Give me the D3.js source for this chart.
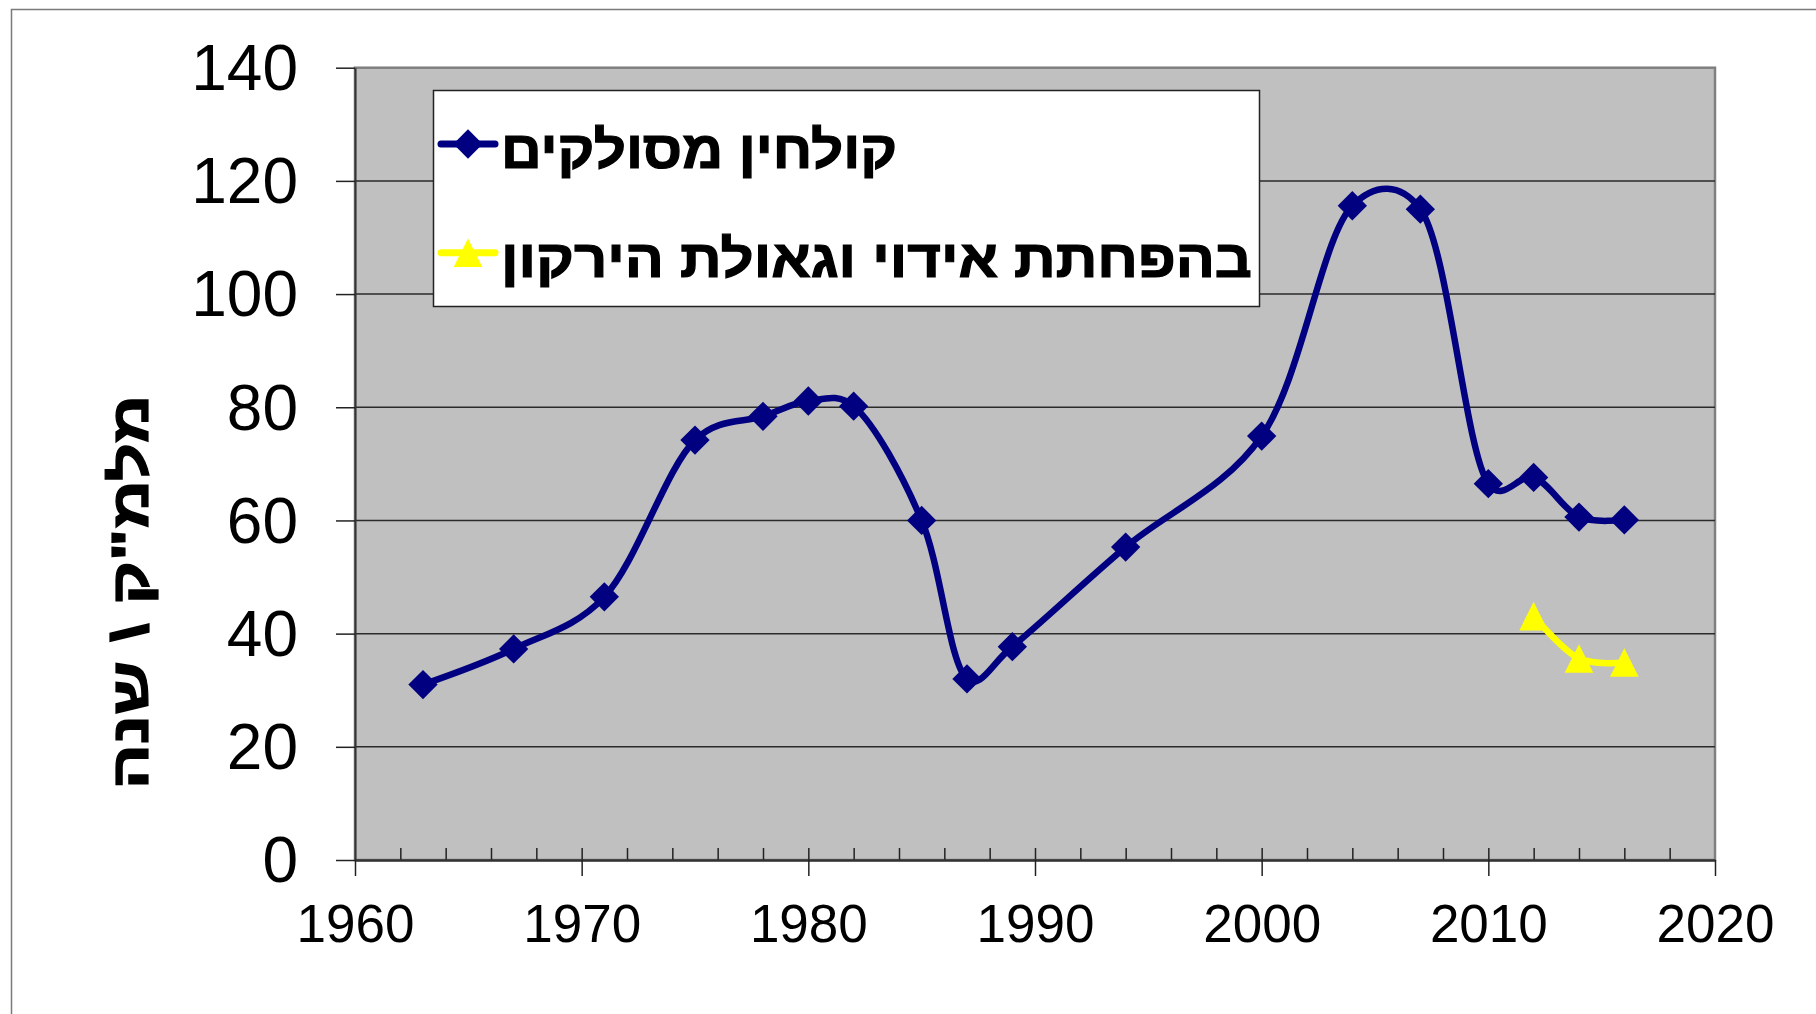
<!DOCTYPE html>
<html>
<head>
<meta charset="utf-8">
<script src="https://cdn.jsdelivr.net/npm/d3@7"></script>
<style>
  body { margin: 0; background: #fff; }
  svg { display: block; font-family: "Liberation Sans", Arial, sans-serif; }
</style>
</head>
<body>
<svg width="1816" height="1014"></svg>
<script>
// data
var years1 = [1963, 1967, 1971, 1975, 1978, 1980, 1982, 1985, 1987, 1989, 1994, 2000, 2004, 2007, 2010, 2012, 2014, 2016];
var vals1 = [31, 37.3, 46.5, 74.2, 78.4, 81.1, 80.2, 60, 32, 37.7, 55.3, 74.9, 115.6, 115, 66.5, 67.6, 60.6, 60.1];
var years2 = [2012, 2014, 2016];
var vals2 = [43.1, 35.6, 34.9];
var seriesNames = ["קולחין מסולקים", "בהפחתת אידוי וגאולת הירקון"];
var seriesColors = ["#000080", "#FFFF00"];
var yTicks = [0, 20, 40, 60, 80, 100, 120, 140];
var xTicks = [1960, 1970, 1980, 1990, 2000, 2010, 2020];
var yTitle = "מלמ\"ק \\ שנה";

var svg = d3.select("svg"),
    width = +svg.attr("width"),
    height = +svg.attr("height");

// plot area box
var pLeft = 355, pRight = 1715, pTop = 67.7, pBottom = 860;

var x = d3.scaleLinear().domain([1960, 2020]).range([pLeft, pRight]);
var y = d3.scaleLinear().domain([0, 140]).range([pBottom, pTop]);

// outer chart border
svg.append("rect")
    .attr("x", 11.5).attr("y", 9.5)
    .attr("width", width).attr("height", height)
    .attr("fill", "#fff")
    .attr("stroke", "#7a7a7a")
    .attr("stroke-width", 1.5);

// plot area
svg.append("rect")
    .attr("x", pLeft).attr("y", pTop)
    .attr("width", pRight - pLeft).attr("height", pBottom - pTop)
    .attr("fill", "#C0C0C0")
    .attr("stroke", "#808080")
    .attr("stroke-width", 2.5);

// gridlines
svg.append("g")
    .selectAll("line")
    .data(yTicks.filter(function (d) { return d > 0 && d < 140; }))
    .enter().append("line")
    .attr("x1", pLeft).attr("x2", pRight)
    .attr("y1", function (d) { return y(d); })
    .attr("y2", function (d) { return y(d); })
    .attr("stroke", "#2a2a2a")
    .attr("stroke-width", 1.5);

// minor ticks (every 2 years, inside)
svg.append("g")
    .attr("transform", "translate(0," + pBottom + ")")
    .call(d3.axisBottom(x).tickValues(d3.range(1962, 2020, 2)).tickSize(-12).tickSizeOuter(0).tickFormat(""))
    .call(function (g) { g.select(".domain").remove(); })
    .selectAll("line").attr("stroke", "#222").attr("stroke-width", 1.5);

// y axis
var yAxis = svg.append("g")
    .attr("transform", "translate(" + pLeft + ",0)")
    .call(d3.axisLeft(y).tickValues(yTicks).tickSize(19).tickPadding(38).tickSizeOuter(0));
yAxis.select(".domain").attr("stroke", "#333").attr("stroke-width", 2);
yAxis.selectAll(".tick line").attr("stroke", "#222").attr("stroke-width", 1.5);
yAxis.selectAll("text")
    .attr("font-size", 64)
    .attr("font-family", "'Liberation Sans', Arial, sans-serif")
    .attr("fill", "#000")
    .attr("dy", "0.34em");

// x axis
var xAxis = svg.append("g")
    .attr("transform", "translate(0," + pBottom + ")")
    .call(d3.axisBottom(x).tickValues(xTicks).tickSize(16).tickPadding(28).tickSizeOuter(0).tickFormat(d3.format("d")));
xAxis.select(".domain").attr("stroke", "#333").attr("stroke-width", 2.5);
xAxis.selectAll(".tick line").attr("stroke", "#222").attr("stroke-width", 1.5);
xAxis.selectAll("text")
    .attr("font-size", 53)
    .attr("font-family", "'Liberation Sans', Arial, sans-serif")
    .attr("fill", "#000");

// markers
var diamond = d3.symbol().type(d3.symbolSquare).size(430);
var tri = {
    draw: function (ctx, size) {
        var h = Math.sqrt(size) / 2;
        ctx.moveTo(0, -h);
        ctx.lineTo(h, h);
        ctx.lineTo(-h, h);
        ctx.closePath();
    }
};
var triangle = d3.symbol().type(tri).size(820);

var line = d3.line()
    .x(function (d) { return x(d[0]); })
    .y(function (d) { return y(d[1]); })
    .curve(d3.curveCatmullRom.alpha(0.25));

var s1 = d3.zip(years1, vals1);
var s2 = d3.zip(years2, vals2);

svg.append("path")
    .datum(s1)
    .attr("d", line)
    .attr("fill", "none")
    .attr("stroke", seriesColors[0])
    .attr("stroke-width", 6.5);

svg.append("g")
    .selectAll("path")
    .data(s1)
    .enter().append("path")
    .attr("d", diamond)
    .attr("transform", function (d) { return "translate(" + x(d[0]) + "," + y(d[1]) + ") rotate(45)"; })
    .attr("fill", seriesColors[0]);

svg.append("path")
    .datum(s2)
    .attr("d", line)
    .attr("fill", "none")
    .attr("stroke", seriesColors[1])
    .attr("stroke-width", 6.5);

svg.append("g")
    .selectAll("path")
    .data(s2)
    .enter().append("path")
    .attr("d", triangle)
    .attr("transform", function (d) { return "translate(" + x(d[0]) + "," + y(d[1]) + ")"; })
    .attr("fill", seriesColors[1]);

// legend
var legend = svg.append("g");
legend.append("rect")
    .attr("x", 433.5).attr("y", 90.5)
    .attr("width", 826).attr("height", 216)
    .attr("fill", "#fff")
    .attr("stroke", "#222")
    .attr("stroke-width", 1.5);

var legendRows = [
    { name: seriesNames[0], color: seriesColors[0], sym: diamond, rot: 45, cy: 144, base: 168, len: 396 },
    { name: seriesNames[1], color: seriesColors[1], sym: triangle, rot: 0, cy: 252.7, base: 276.7, len: 751 }
];
legendRows.forEach(function (r) {
    legend.append("line")
        .attr("x1", 441).attr("x2", 495)
        .attr("y1", r.cy).attr("y2", r.cy)
        .attr("stroke", r.color)
        .attr("stroke-width", 7)
        .attr("stroke-linecap", "round");
    legend.append("path")
        .attr("d", r.sym)
        .attr("transform", "translate(468," + r.cy + ") rotate(" + r.rot + ")")
        .attr("fill", r.color);
    legend.append("text")
        .attr("x", 501).attr("y", r.base)
        .attr("font-size", 52)
        .attr("font-weight", "bold")
        .attr("textLength", r.len)
        .attr("lengthAdjust", "spacingAndGlyphs")
        .attr("fill", "#000")
        .attr("stroke", "#000")
        .attr("stroke-width", 1.2)
        .text(r.name);
});

// y axis title
svg.append("text")
    .attr("transform", "translate(148,592) rotate(-90)")
    .attr("text-anchor", "middle")
    .attr("font-size", 52)
    .attr("font-weight", "bold")
    .attr("textLength", 395)
    .attr("lengthAdjust", "spacingAndGlyphs")
    .attr("fill", "#000")
    .attr("stroke", "#000")
    .attr("stroke-width", 1.2)
    .text(yTitle);
</script>
</body>
</html>
